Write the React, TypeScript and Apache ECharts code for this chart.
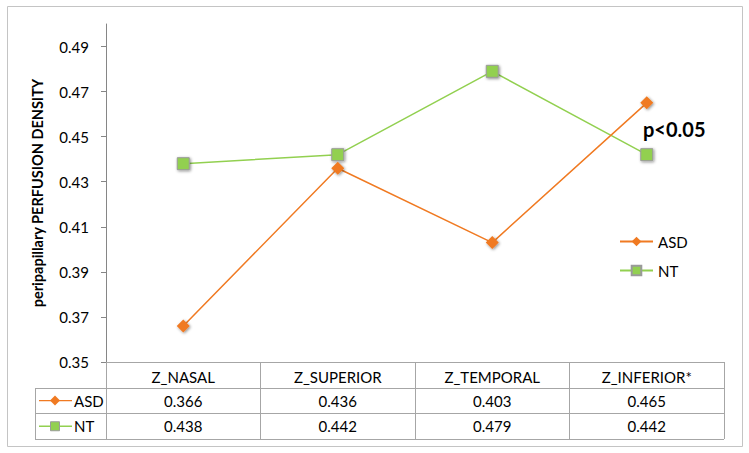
import React, { useEffect, useRef } from "react";
import * as echarts from "echarts";

const categories = ["Z_NASAL", "Z_SUPERIOR", "Z_TEMPORAL", "Z_INFERIOR*"];
const asdValues = [0.366, 0.436, 0.403, 0.465];
const ntValues = [0.438, 0.442, 0.479, 0.442];
const yTickValues = [0.35, 0.37, 0.39, 0.41, 0.43, 0.45, 0.47, 0.49];
const seriesNames = ["ASD", "NT"];
const annotation = "p<0.05";

const ASD_COLOR = "#F07A22";
const NT_COLOR = "#92D050";
const FONT = "Lato";

const W = 749;
const H = 453;
const GRID_LEFT = 106;
const GRID_TOP = 24;
const GRID_RIGHT_X = 724;
const GRID_BOTTOM_Y = 362;
const ROW_H = 25.7;
const TABLE_LEFT = 35;

export default function App() {
  const ref = useRef<HTMLDivElement>(null);
  useEffect(() => {
    if (!ref.current) return;
    const chart = echarts.init(ref.current, null, { renderer: "svg" });
    const gridW = GRID_RIGHT_X - GRID_LEFT;
    const colW = gridW / categories.length;
    const rowsY = [GRID_BOTTOM_Y + ROW_H, GRID_BOTTOM_Y + 2 * ROW_H, GRID_BOTTOM_Y + 3 * ROW_H];
    const lineColor = "#a6a6a6";
    const graphics: any[] = [];
    graphics.push({
      type: "rect",
      shape: { x: 7.5, y: 6.5, width: 735, height: 440 },
      style: { fill: "none", stroke: "#c4c4c4", lineWidth: 1 },
      silent: true,
    });
    rowsY.forEach((y) => {
      graphics.push({
        type: "line",
        shape: { x1: TABLE_LEFT, y1: Math.round(y) + 0.5, x2: GRID_RIGHT_X, y2: Math.round(y) + 0.5 },
        style: { stroke: lineColor, lineWidth: 1 },
        silent: true,
      });
    });
    graphics.push({
      type: "line",
      shape: { x1: TABLE_LEFT + 0.5, y1: Math.round(rowsY[0]) + 0.5, x2: TABLE_LEFT + 0.5, y2: Math.round(rowsY[2]) + 0.5 },
      style: { stroke: lineColor, lineWidth: 1 },
      silent: true,
    });
    const rowData = [asdValues, ntValues];
    const rowColors = [ASD_COLOR, NT_COLOR];
    rowData.forEach((vals, r) => {
      const cy = (rowsY[r] + rowsY[r + 1]) / 2;
      graphics.push({
        type: "line",
        shape: { x1: TABLE_LEFT + 4, y1: cy, x2: TABLE_LEFT + 37, y2: cy },
        style: { stroke: rowColors[r], lineWidth: 1.3 },
        silent: true,
      });
      if (r === 0) {
        graphics.push({
          type: "polygon",
          shape: { points: [[TABLE_LEFT + 20, cy - 5], [TABLE_LEFT + 25, cy], [TABLE_LEFT + 20, cy + 5], [TABLE_LEFT + 15, cy]] },
          style: { fill: ASD_COLOR },
          silent: true,
        });
      } else {
        graphics.push({
          type: "rect",
          shape: { x: TABLE_LEFT + 15.5, y: cy - 4.5, width: 9, height: 9 },
          style: { fill: NT_COLOR, stroke: "#9a9a9a", lineWidth: 1 },
          silent: true,
        });
      }
      graphics.push({
        type: "text",
        x: TABLE_LEFT + 39,
        y: cy,
        style: { text: seriesNames[r], font: `15px ${FONT}`, fill: "#000", textVerticalAlign: "middle", textAlign: "left" },
        silent: true,
      });
      vals.forEach((v, c) => {
        graphics.push({
          type: "text",
          x: GRID_LEFT + colW * (c + 0.5),
          y: cy,
          style: { text: v.toFixed(3), font: `15px ${FONT}`, fill: "#000", textAlign: "center", textVerticalAlign: "middle" },
          silent: true,
        });
      });
    });
    graphics.push({
      type: "text",
      x: 643,
      y: 129,
      style: { text: annotation, font: `bold 20px ${FONT}`, fill: "#000", textVerticalAlign: "middle", textAlign: "left" },
      silent: true,
    });

    const markerShadow = { shadowBlur: 3, shadowColor: "rgba(0,0,0,0.45)", shadowOffsetX: 1, shadowOffsetY: 1 };

    chart.setOption({
      animation: false,
      backgroundColor: "#ffffff",
      textStyle: { fontFamily: FONT },
      grid: { left: GRID_LEFT, top: GRID_TOP, width: gridW, height: GRID_BOTTOM_Y - GRID_TOP, containLabel: false },
      legend: {
        orient: "vertical",
        left: 614,
        top: 229,
        itemWidth: 33,
        itemHeight: 12,
        itemGap: 14,
        textStyle: { fontFamily: FONT, fontSize: 15, color: "#000" },
        data: seriesNames,
      },
      xAxis: {
        type: "category",
        data: categories,
        boundaryGap: true,
        axisLine: { show: true, lineStyle: { color: lineColor, width: 1 } },
        axisTick: { show: true, inside: false, length: Math.round(3 * ROW_H), alignWithLabel: false, lineStyle: { color: lineColor } },
        axisLabel: { show: true, margin: 7, fontSize: 15, color: "#000", fontFamily: FONT },
        splitLine: { show: false },
      },
      yAxis: {
        type: "value",
        min: 0.35,
        max: 0.5,
        interval: 0.01,
        name: "peripapillary PERFUSION DENSITY",
        nameLocation: "middle",
        nameGap: 61,
        nameTextStyle: { fontFamily: FONT, fontWeight: "bold", fontSize: 14.5, color: "#000" },
        axisLine: { show: true, lineStyle: { color: "#868686", width: 1 } },
        axisTick: { show: true, length: 5, lineStyle: { color: "#868686" }, customValues: yTickValues },
        axisLabel: {
          margin: 17,
          fontSize: 15,
          color: "#000",
          fontFamily: FONT,
          customValues: yTickValues,
          formatter: (v: number) => v.toFixed(2),
        },
        splitLine: { show: false },
      },
      series: [
        {
          name: seriesNames[0],
          type: "line",
          data: asdValues,
          symbol: "diamond",
          symbolSize: 13,
          lineStyle: { color: ASD_COLOR, width: 1.5 },
          itemStyle: { color: ASD_COLOR, ...markerShadow },
          z: 3,
        },
        {
          name: seriesNames[1],
          type: "line",
          data: ntValues,
          symbol: "rect",
          symbolSize: 12,
          lineStyle: { color: NT_COLOR, width: 1.5 },
          itemStyle: { color: NT_COLOR, borderColor: "#9a9a9a", borderWidth: 1, ...markerShadow },
          z: 2,
        },
      ],
      graphic: graphics,
    });
    return () => chart.dispose();
  }, []);
  return (
    <div
      ref={ref}
      style={{ position: "fixed", left: 0, top: 0, width: W, height: H, background: "#fff" }}
    />
  );
}
